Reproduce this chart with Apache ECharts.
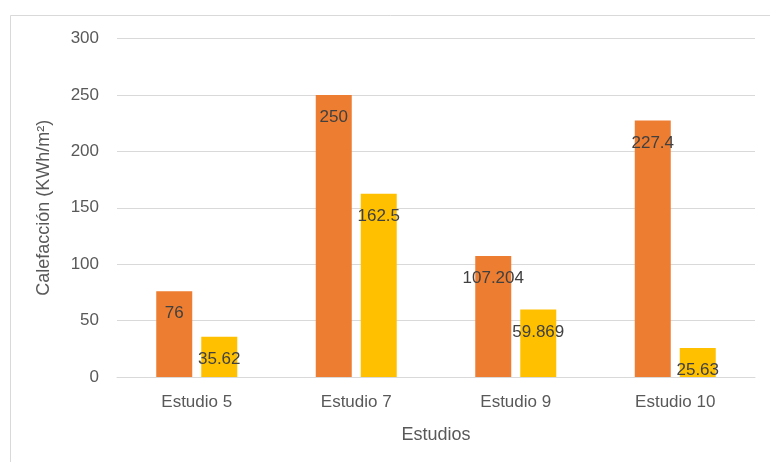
<!DOCTYPE html>
<html>
<head>
<meta charset="utf-8">
<script src="https://cdn.jsdelivr.net/npm/echarts@6/dist/echarts.min.js"></script>
<style>
  html, body { margin: 0; padding: 0; background: #ffffff; }
  #chart { width: 770px; height: 462px; }
</style>
</head>
<body>
<div id="chart"></div>
<script>
// Heating demand per study (kWh/m²)
const categories = ['Estudio 5', 'Estudio 7', 'Estudio 9', 'Estudio 10'];
const seriesA = [76, 250, 107.204, 227.4];
const seriesB = [35.62, 162.5, 59.869, 25.63];
const yTicks = { min: 0, max: 300, interval: 50 };

const FONT = 'Liberation Sans';
const chart = echarts.init(document.getElementById('chart'), null, { renderer: 'canvas' });

const labelStyle = {
  show: true,
  position: 'insideTop',
  distance: 14,
  color: '#404040',
  fontFamily: FONT,
  fontSize: 17
};

chart.setOption({
  animation: false,
  backgroundColor: '#ffffff',
  textStyle: { fontFamily: FONT },
  graphic: [{
    type: 'rect',
    shape: { x: 10.5, y: 15.5, width: 800, height: 500 },
    style: { fill: 'none', stroke: '#d9d9d9', lineWidth: 1 },
    silent: true
  }],
  grid: { left: 117, right: 15, top: 38.5, bottom: 85 },
  xAxis: {
    type: 'category',
    data: categories,
    name: 'Estudios',
    nameLocation: 'middle',
    nameGap: 49,
    nameTextStyle: { color: '#595959', fontSize: 18, fontFamily: FONT },
    axisLine: { lineStyle: { color: '#d9d9d9', width: 1 } },
    axisTick: { show: false },
    axisLabel: { color: '#595959', fontSize: 17, fontFamily: FONT, margin: 17 }
  },
  yAxis: {
    type: 'value',
    min: yTicks.min,
    max: yTicks.max,
    interval: yTicks.interval,
    name: 'Calefacción (KWh/m²)',
    nameLocation: 'middle',
    nameGap: 64,
    nameRotate: 90,
    nameTextStyle: { color: '#595959', fontSize: 18, fontFamily: FONT },
    axisLine: { show: false },
    axisTick: { show: false },
    splitLine: { lineStyle: { color: '#d9d9d9', width: 1 } },
    axisLabel: { color: '#595959', fontSize: 17, fontFamily: FONT, margin: 18 }
  },
  series: [
    {
      type: 'bar',
      data: seriesA,
      barWidth: 36,
      barGap: '25%',
      itemStyle: { color: '#ED7D31' },
      label: labelStyle
    },
    {
      type: 'bar',
      data: seriesB,
      barWidth: 36,
      itemStyle: { color: '#FFC000' },
      label: labelStyle
    }
  ]
});
</script>
</body>
</html>
